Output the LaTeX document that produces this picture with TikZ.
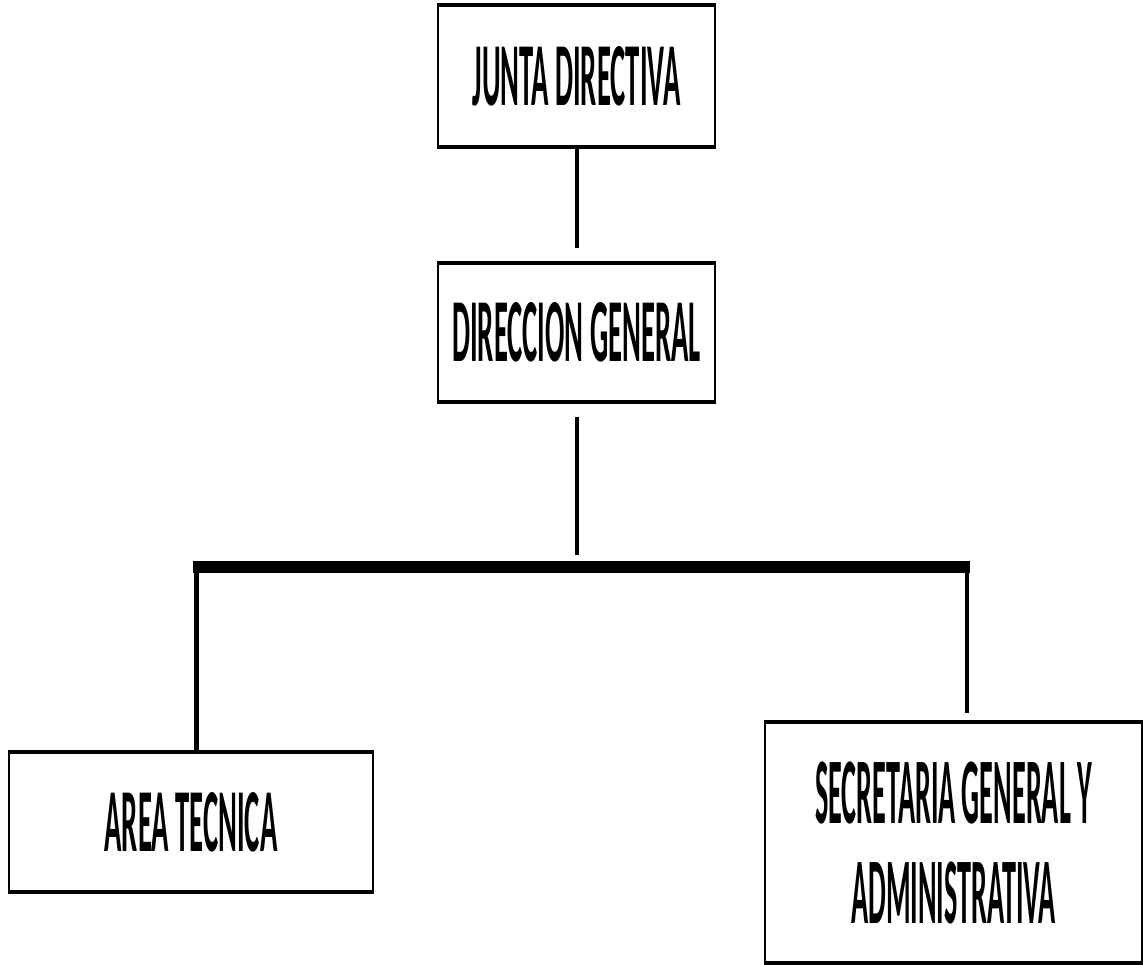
\documentclass[tikz,border=0pt]{standalone}
\usepackage{fontspec}
\newfontfamily\orgfont{Carlito}[FakeStretch=0.318]
\newfontfamily\orgfontb{Carlito}[FakeStretch=0.30]
\begin{document}
\begin{tikzpicture}[x=1pt,y=-1pt,
  orgbox/.style={draw=black, line width=2pt, fill=white, inner sep=0pt, align=center,
    font={\orgfont\bfseries\fontsize{90}{100}\selectfont}},
  edge/.style={line width=4pt, black},
  conn/.style={line width=4pt, black},
]
\useasboundingbox (0,0) rectangle (1143,964);
\fill[white] (0,0) rectangle (1143,964);

\node[orgbox, minimum width=277pt, minimum height=140pt] (jd) at (576.5,76) {JUNTA DIRECTIVA};
\node[orgbox, minimum width=277pt, minimum height=137pt] (dg) at (576.5,332.5) {DIRECCION GENERAL};
\node[orgbox, minimum width=364pt, minimum height=138pt] (at) at (191,822) {AREA TECNICA};
\node[orgbox, minimum width=377pt, minimum height=239pt,
  font={\orgfontb\bfseries\fontsize{94}{100}\selectfont}] (sg) at (953.5,842.5)
  {SECRETARIA GENERAL Y\\ADMINISTRATIVA};

% thicker top and bottom borders
\foreach \n in {jd,dg,at,sg}{
  \draw[edge] (\n.north west) -- (\n.north east);
  \draw[edge] (\n.south west) -- (\n.south east);
}

\coordinate (c1) at (577,248);
\coordinate (c2) at (576.5,417);
\coordinate (c3) at (576.5,555);
\coordinate (bl) at (193,567);
\coordinate (br) at (970,567);
\coordinate (lv) at (196,561);
\coordinate (rv1) at (967,573);
\coordinate (rv2) at (967,713);

\draw[conn] (jd.south -| c1) -- (c1);
\draw[conn] (c2) -- (c3);
\draw[line width=12pt, black] (bl) -- (br);
\draw[line width=5pt, black] (lv) -- (lv |- at.north);
\draw[conn] (rv1) -- (rv2);
\end{tikzpicture}
\end{document}
